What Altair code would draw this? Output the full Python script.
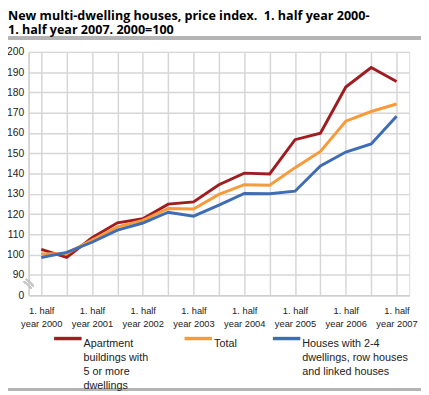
import altair as alt
import pandas as pd

periods = []
for yr in range(2000, 2008):
    periods.append(f"1. half year {yr}")
    if yr < 2007:
        periods.append(f"2. half year {yr}")

series_names = [
    "Apartment\nbuildings with\n5 or more\ndwellings",
    "Total",
    "Houses with 2-4\ndwellings, row houses\nand linked houses",
]
apartment = [102.6, 98.6, 108.3, 115.7, 117.7, 124.9, 126.0, 134.5, 140.2, 139.8, 156.7, 159.9, 182.7, 192.3, 185.4]
total = [100.3, 100.6, 107.2, 113.7, 116.9, 122.8, 122.5, 129.7, 134.5, 134.2, 142.9, 150.9, 165.8, 170.6, 174.3]
houses = [98.6, 101.1, 106.1, 112.1, 115.6, 120.9, 119.0, 124.4, 130.2, 130.0, 131.3, 143.8, 150.6, 154.6, 168.2]
colors = ["#a01c20", "#f89a3a", "#3f6db5"]
y_ticks = [80, 90, 100, 110, 120, 130, 140, 150, 160, 170, 180, 190, 200]

rows = []
for name, vals in zip(series_names, [apartment, total, houses]):
    for p, v in zip(periods, vals):
        rows.append({"period": p, "series": name, "value": v})
df = pd.DataFrame(rows)

W, H = 388, 248
FONT = "Liberation Sans"

# legend labels: every label gets 4 lines (blank lines padded at the end) so all
# entries have the same height and the symbols line up with the first text line
B = "'\u00a0'"
legend_label_expr = (
    f"datum.label == 'Total' ? ['Total  ', {B}, {B}, {B}] : "
    f"indexof(datum.label, 'Houses') == 0 ? ['Houses with 2-4', 'dwellings, row houses', 'and linked houses', {B}] : "
    "split(datum.label, '\\n')"
)

lines = alt.Chart(df).mark_line(strokeWidth=3).encode(
    x=alt.X("period:O", sort=periods,
            scale=alt.Scale(type="point", padding=0.5),
            axis=alt.Axis(title=None, labelAngle=0, grid=True, ticks=False,
                          labelExpr="indexof(datum.label, '1. half') == 0 ? ['1. half', replace(datum.label, '1. half ', '')] : ''",
                          labelFontSize=9.5, labelColor="#222", labelFont=FONT,
                          labelBaseline="top", labelPadding=11, labelLineHeight=13.3,
                          domainColor="#cfcfcf", domainWidth=1.5, gridColor="#d6d6d6", gridWidth=1.5)),
    y=alt.Y("value:Q", scale=alt.Scale(domain=[80, 200], nice=False, zero=False),
            axis=alt.Axis(title=None, values=y_ticks, ticks=False, grid=True,
                          labelExpr="datum.value == 80 ? '0' : datum.label",
                          labelFontSize=10.5, labelColor="#222", labelFont=FONT, labelPadding=5,
                          domainColor="#cfcfcf", domainWidth=1.5, gridColor="#d6d6d6", gridWidth=1.5)),
    color=alt.Color("series:N", sort=series_names,
                    scale=alt.Scale(domain=series_names, range=colors),
                    legend=alt.Legend(title=None, orient="none", legendX=24, legendY=276,
                                      direction="horizontal", columns=3, columnPadding=29,
                                      symbolType="stroke", symbolSize=784, symbolStrokeWidth=3.5,
                                      labelExpr=legend_label_expr,
                                      labelFontSize=11, labelFont=FONT, labelColor="#222",
                                      labelOffset=0, labelBaseline="top", labelLimit=300, padding=0)),
)

title_rule = alt.Chart(df).mark_rule(color="#b4b4b4", strokeWidth=3).encode(
    x=alt.value(-21), x2=alt.value(400), y=alt.value(-14)
)
bottom_rule = alt.Chart(df).mark_rule(color="#b4b4b4", strokeWidth=2).encode(
    x=alt.value(-21), x2=alt.value(400), y=alt.value(344)
)
brk1 = alt.Chart(df).mark_rule(color="#c8c8c8", strokeWidth=1.3).encode(
    x=alt.value(-4.5), y=alt.value(234), x2=alt.value(3), y2=alt.value(241)
)
brk2 = alt.Chart(df).mark_rule(color="#c8c8c8", strokeWidth=1.3).encode(
    x=alt.value(-2.5), y=alt.value(231.5), x2=alt.value(5), y2=alt.value(238.5)
)

chart = alt.layer(lines, title_rule, bottom_rule, brk1, brk2).properties(
    width=W, height=H,
    autosize=alt.AutoSizeParams(type="none"),
    padding={"left": 21, "top": 41, "right": 12, "bottom": 98},
    title=alt.Title(["New multi-dwelling houses, price index.\u00a0 1. half year 2000-",
                     "1. half year 2007. 2000=100"],
                    anchor="start", frame="group", dx=-21, dy=0, offset=0, fontSize=12.8,
                    fontWeight="bold", font="Open Sans", color="#000", lineHeight=14,
                    baseline="top"),
).configure_view(stroke="transparent").configure(style={"guide-label": {"lineHeight": 14.2}})

chart.save("out.html", embed_options={"renderer": "svg", "actions": False})
